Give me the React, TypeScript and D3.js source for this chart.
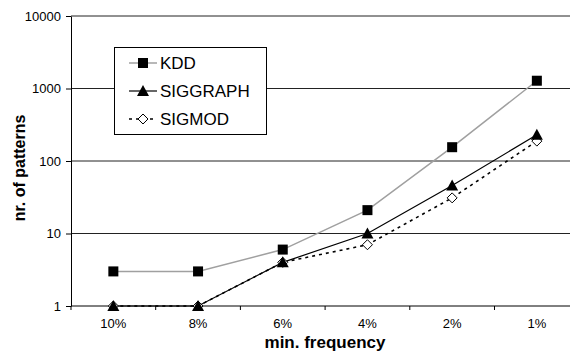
import React, { useEffect, useRef } from 'react';
import * as d3 from 'd3';

const categories = ['10%', '8%', '6%', '4%', '2%', '1%'];
const kdd = [3, 3, 6, 21, 155, 1280];
const siggraph = [1, 1, 4, 10, 46, 230];
const sigmod = [1, 1, 4, 7, 31, 188];
const yTicks = [1, 10, 100, 1000, 10000];

const App = () => {
  const ref = useRef<SVGSVGElement>(null);

  useEffect(() => {
    const svg = d3.select(ref.current);
    svg.selectAll('*').remove();

    const width = 570;
    const height = 351;
    const left = 71;
    const top = 16;
    const bottom = 306;
    const font = 'Liberation Sans, Arial, sans-serif';

    const x = d3.scaleBand().domain(categories).range([left, left + 6 * 84.7]);
    const y = d3.scaleLog().domain([1, 10000]).range([bottom, top]);
    const cx = (c: string) => (x(c) as number) + x.bandwidth() / 2;

    // gridlines
    svg
      .append('g')
      .selectAll('line')
      .data(yTicks.slice(1))
      .enter()
      .append('line')
      .attr('x1', left)
      .attr('x2', width)
      .attr('y1', (d) => y(d))
      .attr('y2', (d) => y(d))
      .attr('stroke', '#222')
      .attr('stroke-width', 1);

    // y axis
    const yAxis = svg
      .append('g')
      .attr('transform', `translate(${left},0)`)
      .call(d3.axisLeft(y).tickValues(yTicks).tickFormat(d3.format('d')).tickSize(5).tickSizeOuter(0));
    yAxis.select('.domain').attr('stroke', '#000');
    yAxis.selectAll('text').attr('font-family', font).attr('font-size', 13).attr('fill', '#000').attr('dx', -2);

    // x axis
    const xAxis = svg.append('g').attr('transform', `translate(0,${bottom})`);
    xAxis.append('line').attr('x1', left).attr('x2', width).attr('y1', 0).attr('y2', 0).attr('stroke', '#000');
    xAxis
      .selectAll('.tk')
      .data(categories)
      .enter()
      .append('line')
      .attr('x1', (d) => x(d) as number)
      .attr('x2', (d) => x(d) as number)
      .attr('y1', 0)
      .attr('y2', 4)
      .attr('stroke', '#000');
    xAxis
      .selectAll('text')
      .data(categories)
      .enter()
      .append('text')
      .attr('x', (d) => cx(d))
      .attr('y', 22)
      .attr('text-anchor', 'middle')
      .attr('font-family', font)
      .attr('font-size', 13)
      .text((d) => d);

    const series = [
      { name: 'KDD', values: kdd, color: '#a0a0a0', dash: null, width: 1.5, marker: 'square' },
      { name: 'SIGGRAPH', values: siggraph, color: '#000', dash: null, width: 1.2, marker: 'triangle' },
      { name: 'SIGMOD', values: sigmod, color: '#000', dash: '3,4', width: 1.6, marker: 'diamond' },
    ];

    const drawMarker = (g: any, type: string, px: number, py: number) => {
      if (type === 'square') {
        g.append('rect').attr('x', px - 5).attr('y', py - 5).attr('width', 10).attr('height', 10).attr('fill', '#000');
      } else if (type === 'triangle') {
        g.append('path').attr('d', `M${px},${py - 6}L${px + 6},${py + 5}L${px - 6},${py + 5}Z`).attr('fill', '#000');
      } else {
        g.append('path')
          .attr('d', `M${px},${py - 5}L${px + 5},${py}L${px},${py + 5}L${px - 5},${py}Z`)
          .attr('fill', '#fff')
          .attr('stroke', '#000')
          .attr('stroke-width', 1);
      }
    };

    const line = d3
      .line<number>()
      .x((_, i) => cx(categories[i]))
      .y((d) => y(d));

    [...series].reverse().forEach((s) => {
      svg
        .append('path')
        .attr('d', line(s.values))
        .attr('fill', 'none')
        .attr('stroke', s.color)
        .attr('stroke-width', s.width)
        .attr('stroke-dasharray', s.dash);
    });
    [...series].reverse().forEach((s) => {
      const g = svg.append('g');
      s.values.forEach((v, i) => drawMarker(g, s.marker, cx(categories[i]), y(v)));
    });

    // legend
    const lg = svg.append('g');
    lg.append('rect')
      .attr('x', 114.5)
      .attr('y', 47.5)
      .attr('width', 152)
      .attr('height', 87)
      .attr('fill', '#fff')
      .attr('stroke', '#000');
    series.forEach((s, i) => {
      const ly = 63 + i * 28;
      lg.append('line')
        .attr('x1', 129)
        .attr('x2', 157)
        .attr('y1', ly)
        .attr('y2', ly)
        .attr('stroke', s.color)
        .attr('stroke-width', s.width)
        .attr('stroke-dasharray', s.dash);
      drawMarker(lg, s.marker, 143, ly);
      lg.append('text')
        .attr('x', 160)
        .attr('y', ly + 6)
        .attr('font-family', font)
        .attr('font-size', 17)
        .text(s.name);
    });

    // titles
    svg
      .append('text')
      .attr('x', 325)
      .attr('y', 348)
      .attr('text-anchor', 'middle')
      .attr('font-family', font)
      .attr('font-size', 17)
      .attr('font-weight', 'bold')
      .text('min. frequency');
    svg
      .append('text')
      .attr('transform', `translate(25,168) rotate(-90)`)
      .attr('text-anchor', 'middle')
      .attr('font-family', font)
      .attr('font-size', 16)
      .attr('font-weight', 'bold')
      .text('nr. of patterns');

    svg.attr('width', width).attr('height', height);
  }, []);

  return (
    <div style={{ position: 'absolute', left: 0, top: 0 }}>
      <svg ref={ref} width={570} height={351} style={{ display: 'block', background: '#fff' }} />
    </div>
  );
};

export default App;
